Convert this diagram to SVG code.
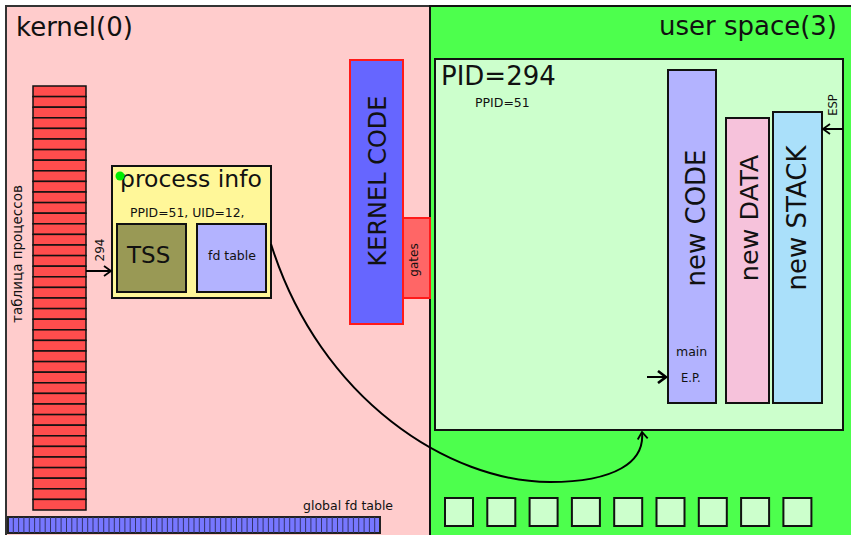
<svg xmlns="http://www.w3.org/2000/svg" width="851" height="535" viewBox="0 0 851 535">
  <defs>
    <style>
      text { font-family: "DejaVu Sans", "Liberation Sans", sans-serif; fill: #111; }
      .box { stroke: #111; stroke-width: 2; }
      .red { stroke: #ff1a1a; stroke-width: 2; }
      .conn { fill: none; stroke: #000; stroke-width: 2; }
      .slot { fill: #ccffcc; stroke: #111; stroke-width: 2; }
      .row { fill: #ff4d4d; stroke: #111; stroke-width: 1.5; }
      .fdline { stroke: #33336a; stroke-width: 1; }
    </style>
    <marker id="chev" viewBox="0 0 12 12" refX="10" refY="6" markerWidth="12" markerHeight="12" markerUnits="userSpaceOnUse" orient="auto">
      <path d="M3,1 L10,6 L3,11" fill="none" stroke="#000" stroke-width="1.8"/>
    </marker>
    <marker id="chev-bold" viewBox="0 0 14 14" refX="12" refY="7" markerWidth="14" markerHeight="14" markerUnits="userSpaceOnUse" orient="auto">
      <path d="M4,1 L12,7 L4,13" fill="none" stroke="#000" stroke-width="2.6"/>
    </marker>
  </defs>

  <!-- kernel region -->
  <g id="kernel">
    <rect x="6" y="6" width="424" height="536" fill="#ffcccc" stroke="#333" stroke-width="2"/>
    <text x="16" y="36" font-size="26">kernel(0)</text>
  </g>

  <!-- user space region -->
  <g id="user-space">
    <rect x="430" y="6" width="426" height="536" fill="#4dff4d" stroke="#111" stroke-width="2"/>
    <text x="837" y="35" font-size="26" text-anchor="end">user space(3)</text>
  </g>

  <!-- process table -->
  <g id="process-table">
    <rect class="row" x="33" y="86" width="53" height="10.6"/>
    <rect class="row" x="33" y="96.6" width="53" height="10.6"/>
    <rect class="row" x="33" y="107.2" width="53" height="10.6"/>
    <rect class="row" x="33" y="117.8" width="53" height="10.6"/>
    <rect class="row" x="33" y="128.4" width="53" height="10.6"/>
    <rect class="row" x="33" y="139" width="53" height="10.6"/>
    <rect class="row" x="33" y="149.6" width="53" height="10.6"/>
    <rect class="row" x="33" y="160.2" width="53" height="10.6"/>
    <rect class="row" x="33" y="170.8" width="53" height="10.6"/>
    <rect class="row" x="33" y="181.4" width="53" height="10.6"/>
    <rect class="row" x="33" y="192" width="53" height="10.6"/>
    <rect class="row" x="33" y="202.6" width="53" height="10.6"/>
    <rect class="row" x="33" y="213.2" width="53" height="10.6"/>
    <rect class="row" x="33" y="223.8" width="53" height="10.6"/>
    <rect class="row" x="33" y="234.4" width="53" height="10.6"/>
    <rect class="row" x="33" y="245" width="53" height="10.6"/>
    <rect class="row" x="33" y="255.6" width="53" height="10.6"/>
    <rect class="row" x="33" y="266.2" width="53" height="10.6"/>
    <rect class="row" x="33" y="276.8" width="53" height="10.6"/>
    <rect class="row" x="33" y="287.4" width="53" height="10.6"/>
    <rect class="row" x="33" y="298" width="53" height="10.6"/>
    <rect class="row" x="33" y="308.6" width="53" height="10.6"/>
    <rect class="row" x="33" y="319.2" width="53" height="10.6"/>
    <rect class="row" x="33" y="329.8" width="53" height="10.6"/>
    <rect class="row" x="33" y="340.4" width="53" height="10.6"/>
    <rect class="row" x="33" y="351" width="53" height="10.6"/>
    <rect class="row" x="33" y="361.6" width="53" height="10.6"/>
    <rect class="row" x="33" y="372.2" width="53" height="10.6"/>
    <rect class="row" x="33" y="382.8" width="53" height="10.6"/>
    <rect class="row" x="33" y="393.4" width="53" height="10.6"/>
    <rect class="row" x="33" y="404" width="53" height="10.6"/>
    <rect class="row" x="33" y="414.6" width="53" height="10.6"/>
    <rect class="row" x="33" y="425.2" width="53" height="10.6"/>
    <rect class="row" x="33" y="435.8" width="53" height="10.6"/>
    <rect class="row" x="33" y="446.4" width="53" height="10.6"/>
    <rect class="row" x="33" y="457" width="53" height="10.6"/>
    <rect class="row" x="33" y="467.6" width="53" height="10.6"/>
    <rect class="row" x="33" y="478.2" width="53" height="10.6"/>
    <rect class="row" x="33" y="488.8" width="53" height="10.6"/>
    <rect class="row" x="33" y="499.4" width="53" height="10.6"/>
    <text transform="translate(22,254) rotate(-90)" font-size="13.5" text-anchor="middle">таблица процессов</text>
  </g>

  <!-- global fd table -->
  <g id="global-fd-table">
    <rect x="8" y="517" width="372" height="16" fill="#7777ff" stroke="#222" stroke-width="2"/>
    <path class="fdline" d="M13.3,517V533M18.6,517V533M23.9,517V533M29.3,517V533M34.6,517V533M39.9,517V533M45.2,517V533M50.5,517V533M55.8,517V533M61.1,517V533M66.5,517V533M71.8,517V533M77.1,517V533M82.4,517V533M87.7,517V533M93,517V533M98.3,517V533M103.7,517V533M109,517V533M114.3,517V533M119.6,517V533M124.9,517V533M130.2,517V533M135.5,517V533M140.9,517V533M146.2,517V533M151.5,517V533M156.8,517V533M162.1,517V533M167.4,517V533M172.7,517V533M178.1,517V533M183.4,517V533M188.7,517V533M194,517V533M199.3,517V533M204.6,517V533M209.9,517V533M215.3,517V533M220.6,517V533M225.9,517V533M231.2,517V533M236.5,517V533M241.8,517V533M247.1,517V533M252.5,517V533M257.8,517V533M263.1,517V533M268.4,517V533M273.7,517V533M279,517V533M284.3,517V533M289.7,517V533M295,517V533M300.3,517V533M305.6,517V533M310.9,517V533M316.2,517V533M321.5,517V533M326.9,517V533M332.2,517V533M337.5,517V533M342.8,517V533M348.1,517V533M353.4,517V533M358.7,517V533M364.1,517V533M369.4,517V533M374.7,517V533"/>
    <text x="303" y="510" font-size="12.5">global fd table</text>
  </g>

  <!-- process info -->
  <g id="process-info">
    <rect class="box" x="112" y="166" width="159" height="132" fill="#fff799"/>
    <text x="120" y="187" font-size="23.5">process info</text>
    <circle cx="120" cy="176" r="4.5" fill="#00ee00"/>
    <text x="130" y="217" font-size="12.4">PPID=51, UID=12,</text>
  </g>
  <g id="tss">
    <rect class="box" x="117" y="224" width="69" height="68" fill="#999955"/>
    <text x="127" y="263" font-size="23">TSS</text>
  </g>
  <g id="fd-table">
    <rect class="box" x="197" y="224" width="69" height="68" fill="#b3b3ff"/>
    <text x="208" y="260" font-size="12.5">fd table</text>
  </g>

  <!-- kernel code and gates -->
  <g id="kernel-code">
    <rect class="red" x="350" y="60" width="53" height="264" fill="#6666ff"/>
    <text transform="translate(386,181) rotate(-90)" font-size="24" text-anchor="middle">KERNEL CODE</text>
  </g>
  <g id="gates">
    <rect class="red" x="403" y="218" width="27" height="80" fill="#ff6666"/>
    <text transform="translate(418,260) rotate(-90)" font-size="12" text-anchor="middle">gates</text>
  </g>

  <!-- process 294 address space -->
  <g id="pid-294">
    <rect class="box" x="435" y="59" width="408" height="371" fill="#ccffcc"/>
    <text x="441" y="85" font-size="26">PID=294</text>
    <text x="475" y="107" font-size="12.5">PPID=51</text>
  </g>
  <g id="new-code">
    <rect class="box" x="668" y="70" width="48" height="333" fill="#b3b3ff"/>
    <text transform="translate(705,218) rotate(-90)" font-size="26" text-anchor="middle">new CODE</text>
    <text x="676" y="356" font-size="12.5">main</text>
    <text x="681" y="382" font-size="11.5">E.P.</text>
  </g>
  <g id="new-data">
    <rect class="box" x="726" y="118" width="43" height="285" fill="#f6c2db"/>
    <text transform="translate(758,218) rotate(-90)" font-size="25.5" text-anchor="middle">new DATA</text>
  </g>
  <g id="new-stack">
    <rect class="box" x="773" y="112" width="49" height="291" fill="#aae0fa"/>
    <text transform="translate(806,218) rotate(-90)" font-size="26" text-anchor="middle">new STACK</text>
    <text transform="translate(837,105) rotate(-90)" font-size="11.5" text-anchor="middle">ESP</text>
  </g>

  <!-- descriptor slots -->
  <g id="slots">
    <rect class="slot" x="445" y="498" width="28" height="28"/>
    <rect class="slot" x="487.3" y="498" width="28" height="28"/>
    <rect class="slot" x="529.6" y="498" width="28" height="28"/>
    <rect class="slot" x="571.9" y="498" width="28" height="28"/>
    <rect class="slot" x="614.2" y="498" width="28" height="28"/>
    <rect class="slot" x="656.5" y="498" width="28" height="28"/>
    <rect class="slot" x="698.8" y="498" width="28" height="28"/>
    <rect class="slot" x="741.1" y="498" width="28" height="28"/>
    <rect class="slot" x="783.4" y="498" width="28" height="28"/>
  </g>

  <!-- connectors -->
  <g id="connectors">
    <path class="conn" d="M86,271 H111" marker-end="url(#chev)"/>
    <text transform="translate(104,250) rotate(-90)" font-size="12" text-anchor="middle">294</text>
    <path class="conn" d="M843,129 H823" stroke-width="1.6" marker-end="url(#chev)"/>
    <path class="conn" d="M647,377 H666" stroke-width="2.8" marker-end="url(#chev-bold)"/>
    <path class="conn" d="M271,244 C320,400 450,482 550,482 C615,482 645,462 642,432" marker-end="url(#chev)"/>
  </g>
</svg>
